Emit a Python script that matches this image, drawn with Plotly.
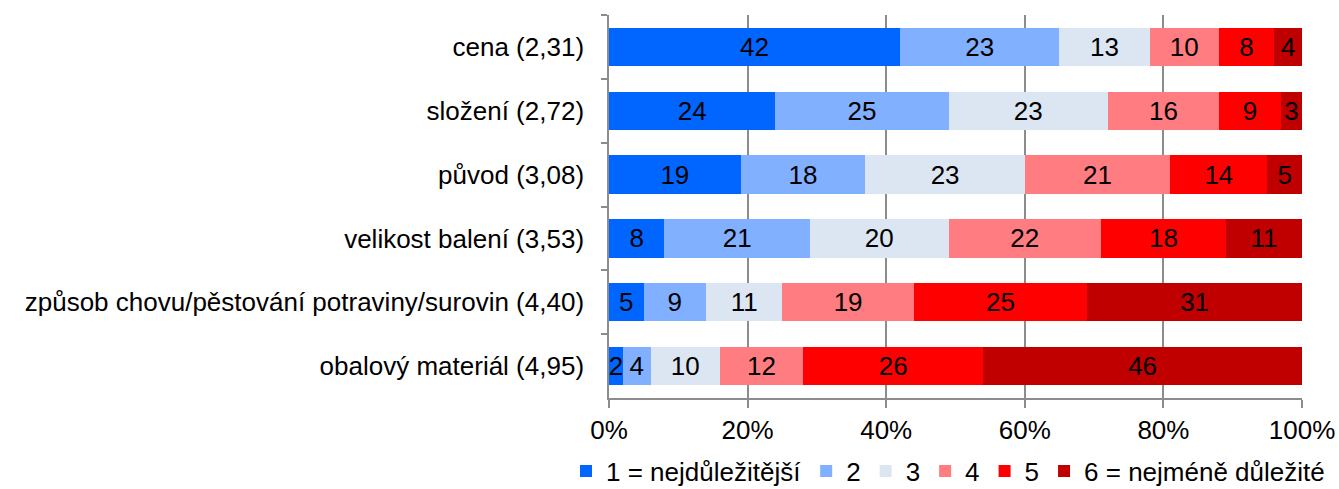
import plotly.graph_objects as go

categories = ["cena (2,31)", "složení (2,72)", "původ (3,08)", "velikost balení (3,53)",
              "způsob chovu/pěstování potraviny/surovin (4,40)", "obalový materiál (4,95)"]
series_names = ["1 = nejdůležitější", "2", "3", "4", "5", "6 = nejméně důležité"]
s1 = [42, 24, 19, 8, 5, 2]
s2 = [23, 25, 18, 21, 9, 4]
s3 = [13, 23, 23, 20, 11, 10]
s4 = [10, 16, 21, 22, 19, 12]
s5 = [8, 9, 14, 18, 25, 26]
s6 = [4, 3, 5, 11, 31, 46]
colors = ["#0066FF", "#80B0FF", "#DCE6F2", "#FF7C80", "#FF0000", "#C00000"]

FONT = "Liberation Sans, Arial, sans-serif"

fig = go.Figure()
for name, vals, col in zip(series_names, [s1, s2, s3, s4, s5, s6], colors):
    fig.add_trace(go.Bar(
        y=categories, x=vals, name=name, orientation="h",
        marker=dict(color=col, line=dict(width=0)),
        text=[str(v) for v in vals], textposition="inside",
        insidetextanchor="middle", textangle=0,
        textfont=dict(color="black", size=26, family=FONT),
    ))

W, H = 1339, 489
L, R, T, B = 609, 37, 15, 91
pw, ph = W - L - R, H - T - B
fig.update_layout(
    barmode="stack", bargap=0.4,
    width=W, height=H,
    margin=dict(l=L, r=R, t=T, b=B, autoexpand=False),
    paper_bgcolor="white", plot_bgcolor="white",
    font=dict(family=FONT, size=26, color="black"),
    uniformtext=dict(minsize=26, mode="show"),
    legend=dict(orientation="h", x=(566 - L) / pw, xanchor="left",
                y=-(471 - (H - B)) / ph, yanchor="middle",
                font=dict(size=26), traceorder="normal", itemwidth=30,
                bgcolor="rgba(0,0,0,0)"),
    showlegend=True,
)
fig.update_xaxes(range=[0, 100], tickvals=[0, 20, 40, 60, 80, 100],
                 ticktext=["0%", "20%", "40%", "60%", "80%", "100%"],
                 showgrid=True, gridcolor="#8C8C8C", gridwidth=1.5,
                 showline=True, linecolor="#8C8C8C", linewidth=1.5,
                 ticks="outside", ticklen=8, tickcolor="#8C8C8C", tickwidth=1.5,
                 zeroline=False, tickfont=dict(size=26))
fig.update_yaxes(autorange="reversed", showline=True, linecolor="#8C8C8C", linewidth=1.5,
                 ticks="outside", tickson="boundaries", ticklen=6, tickcolor="#8C8C8C",
                 tickwidth=1.5, showgrid=False, ticklabelstandoff=18, tickfont=dict(size=26))

fig.write_html("out.html", config={"displayModeBar": False},
               post_script="document.body.style.margin='0';")
